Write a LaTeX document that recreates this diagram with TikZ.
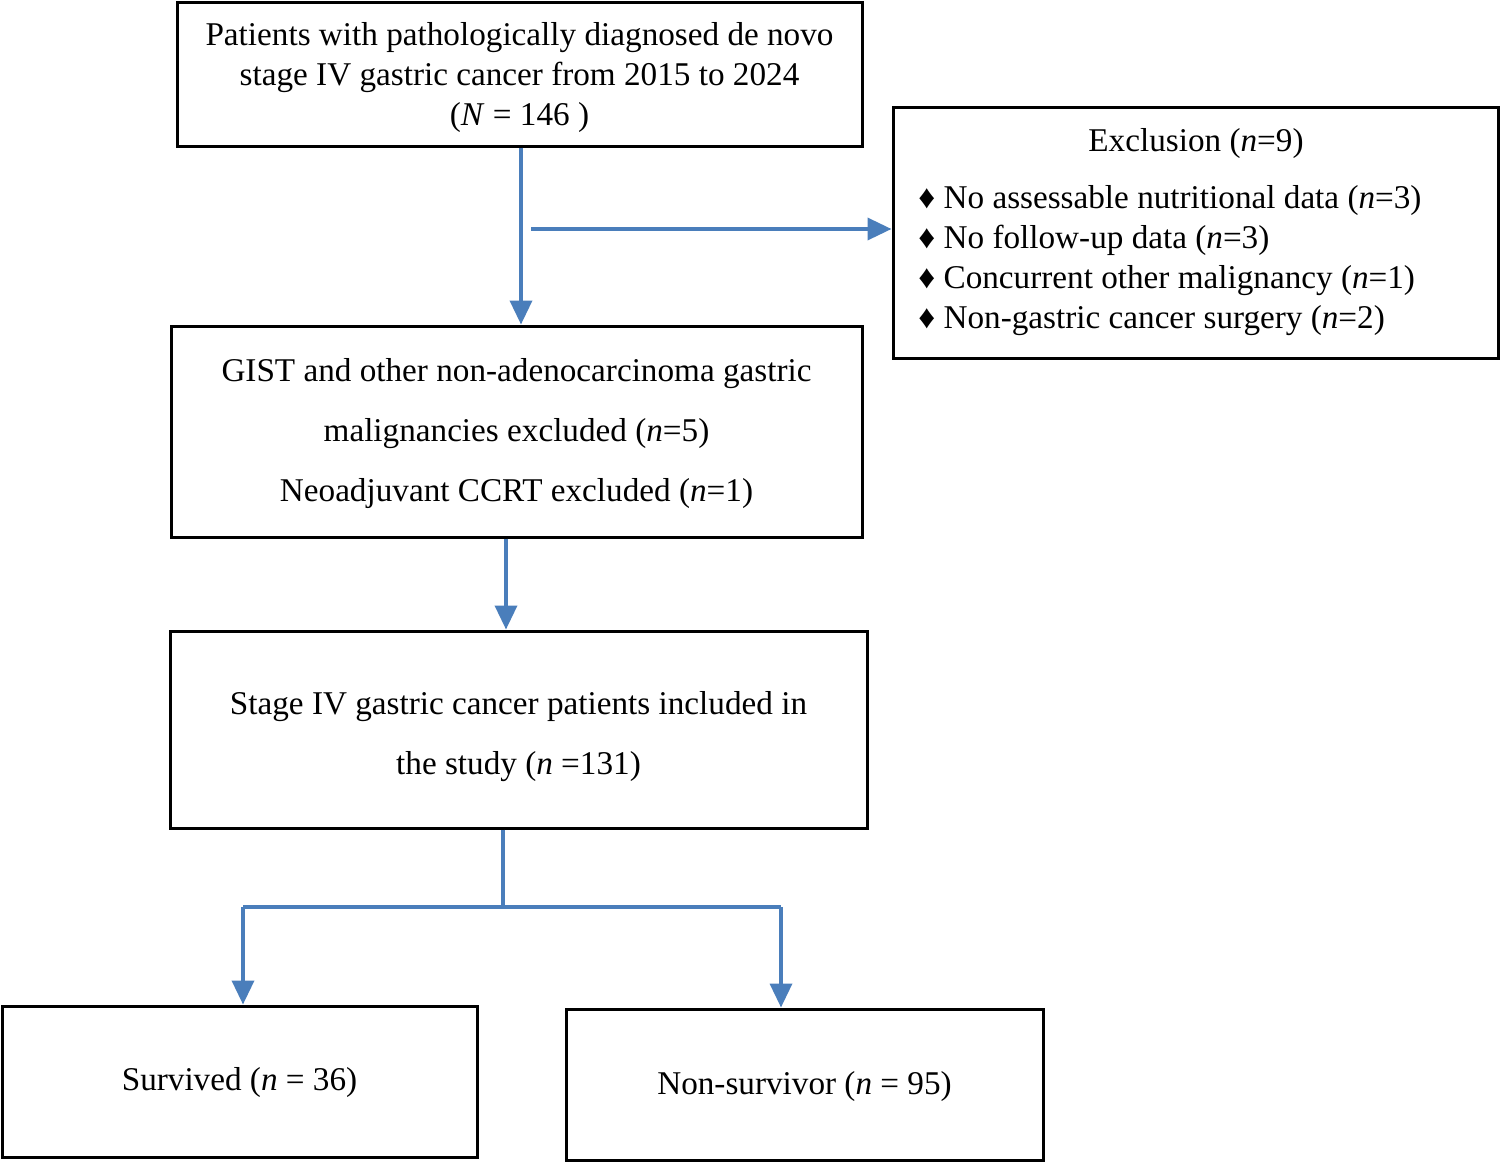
\documentclass[tikz,border=0pt]{standalone}
\usepackage{fontspec}
\setmainfont{Liberation Serif}
\usetikzlibrary{arrows.meta}
\definecolor{flowblue}{HTML}{4A7EBB}
\begin{document}
\begin{tikzpicture}[x=0.5pt,y=-0.5pt,
  box/.style={draw=black,line width=1.5pt,inner sep=0pt,align=center,font=\fontsize{16.6}{20}\selectfont},
  wide/.style={font=\fontsize{16.6}{30}\selectfont},
  arr/.style={draw=flowblue,line width=1.8pt,-{Triangle[width=11pt,length=12pt]}},
  ln/.style={draw=flowblue,line width=1.8pt},
  txt/.style={inner sep=0pt,align=center,font=\fontsize{16.6}{20}\selectfont}]
\useasboundingbox (0,0) rectangle (1500,1162);
\node[box,minimum width=342.5pt,minimum height=72pt] (b1) at (519.5,74) {};
\node[txt] (b1t) at (519.5,78)
  {Patients with pathologically diagnosed de novo\\stage IV gastric cancer from 2015 to 2024\\(\textit{N} = 146 )};
\node[box,minimum width=302.5pt,minimum height=125.5pt] (ex) at (1195.5,232.5) {};
\node[txt] (ext) at (1196,144) {Exclusion (\textit{n}=9)};
\node[txt,anchor=west,align=left] (exl) at (918,261)
  {♦ No assessable nutritional data (\textit{n}=3)\\
   ♦ No follow-up data (\textit{n}=3)\\
   ♦ Concurrent other malignancy (\textit{n}=1)\\
   ♦ Non-gastric cancer surgery (\textit{n}=2)};
\node[box,minimum width=345.5pt,minimum height=105.5pt] (b2) at (516.5,431.5) {};
\node[txt,wide] (b2t) at (516.5,434)
  {GIST and other non-adenocarcinoma gastric\\malignancies excluded (\textit{n}=5)\\Neoadjuvant CCRT excluded (\textit{n}=1)};
\node[box,minimum width=348.5pt,minimum height=98.5pt] (b3) at (518.5,729.5) {};
\node[txt,wide] (b3t) at (518.5,737)
  {Stage IV gastric cancer patients included in\\the study (\textit{n} =131)};
\node[box,minimum width=237.5pt,minimum height=75.5pt] (b4) at (239.5,1081.5) {};
\node[txt] (b4t) at (239.5,1083) {Survived (\textit{n} = 36)};
\node[box,minimum width=238.5pt,minimum height=75.5pt] (b5) at (804.5,1084.5) {};
\node[txt] (b5t) at (804.5,1087) {Non-survivor (\textit{n} = 95)};
% connectors
\coordinate (s1) at (521,0);
\draw[arr] (s1 |- b1.south) -- (s1 |- b2.north);
\coordinate (j) at (531,229);
\draw[arr] (j) -- (j -| ex.west);
\coordinate (s2) at (506,0);
\draw[arr] (s2 |- b2.south) -- (s2 |- b3.north);
\coordinate (m) at (503,907);
\draw[ln] (m |- b3.south) -- (m);
\coordinate (l) at (243,907);
\coordinate (r) at (781,907);
\draw[ln] (l) -- (r);
\draw[arr] (l) -- (l |- b4.north);
\draw[arr] (r) -- (r |- b5.north);
\end{tikzpicture}
\end{document}
